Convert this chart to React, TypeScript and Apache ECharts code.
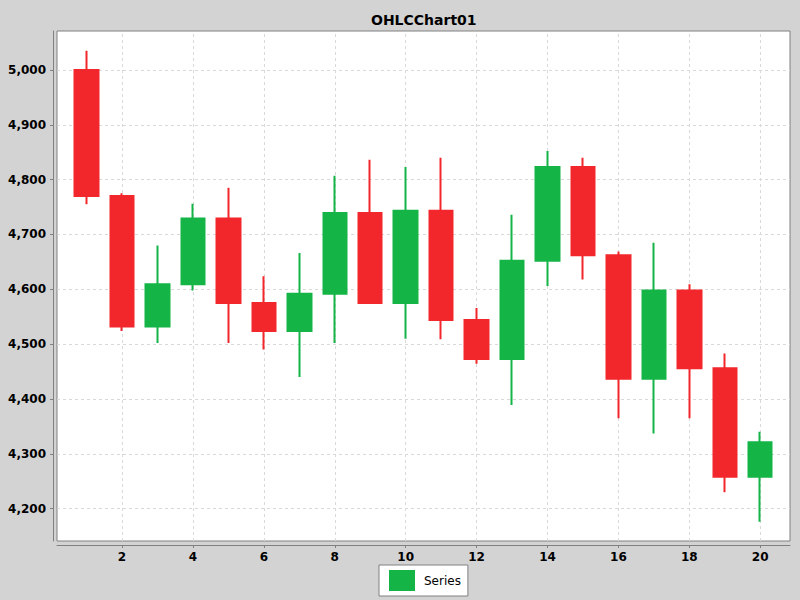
import React, { useEffect, useRef } from 'react';
import * as echarts from 'echarts';

// day index on the x axis
const days = [1, 2, 3, 4, 5, 6, 7, 8, 9, 10, 11, 12, 13, 14, 15, 16, 17, 18, 19, 20];
const openVals = [5000, 4770, 4532, 4609, 4729, 4575, 4524, 4592, 4739, 4575, 4743, 4544, 4473, 4652, 4823, 4662, 4437, 4598, 4456, 4258];
const closeVals = [4770, 4532, 4609, 4729, 4575, 4524, 4592, 4739, 4575, 4743, 4544, 4473, 4652, 4823, 4662, 4437, 4598, 4456, 4258, 4321];
const lowVals = [4755, 4524, 4502, 4598, 4502, 4490, 4440, 4502, 4573, 4510, 4509, 4464, 4389, 4606, 4618, 4365, 4337, 4365, 4230, 4176];
const highVals = [5035, 4775, 4680, 4756, 4785, 4624, 4666, 4807, 4836, 4823, 4840, 4566, 4736, 4852, 4840, 4669, 4685, 4609, 4483, 4340];

const xTicks = [2, 4, 6, 8, 10, 12, 14, 16, 18, 20];
const yTicks = [4200, 4300, 4400, 4500, 4600, 4700, 4800, 4900, 5000];

const UP = '#14b446';
const DOWN = '#f2272c';
const FONT = 'DejaVu Sans';

const App: React.FC = () => {
  const chartRef = useRef<HTMLDivElement>(null);

  useEffect(() => {
    const chart = echarts.init(chartRef.current!, undefined, { renderer: 'svg' });

    const rows = days.map((d, i) => [d, openVals[i], closeVals[i], lowVals[i], highVals[i]]);

    // gridlines at the tick values, drawn as marker lines behind the candles
    const gridLines = [
      ...xTicks.map((v) => ({ xAxis: v })),
      ...yTicks.map((v) => ({ yAxis: v })),
    ];

    chart.setOption({
      animation: false,
      backgroundColor: '#d3d3d3',
      title: {
        text: 'OHLCChart01',
        left: 371,
        top: 13,
        padding: 0,
        textStyle: { fontFamily: FONT, fontSize: 14, fontWeight: 'bold', color: '#000' },
      },
      legend: {
        data: ['Series'],
        left: 379,
        top: 565,
        padding: [5, 7, 5, 10],
        backgroundColor: '#fff',
        borderColor: '#808080',
        borderWidth: 1,
        borderRadius: 0,
        icon: 'rect',
        itemWidth: 24,
        itemHeight: 19,
        itemGap: 10,
        textStyle: { fontFamily: FONT, fontSize: 12, color: '#000', padding: [0, 0, 0, 5] },
      },
      grid: {
        left: 57,
        top: 31,
        width: 733,
        height: 510,
        show: true,
        backgroundColor: '#fff',
        borderColor: '#808080',
        borderWidth: 1,
      },
      xAxis: {
        type: 'value',
        min: 0.166,
        max: 20.84,
        offset: 4,
        axisLine: { show: true, lineStyle: { color: '#808080', width: 1 } },
        axisTick: { show: true, length: 3, customValues: xTicks, lineStyle: { color: '#808080' } },
        axisLabel: {
          customValues: xTicks,
          margin: 6,
          fontFamily: FONT,
          fontSize: 12,
          fontWeight: 'bold',
          color: '#000',
        },
        splitLine: { show: false },
      },
      yAxis: {
        type: 'value',
        min: 4141,
        max: 5071,
        offset: 4,
        axisLine: { show: true, lineStyle: { color: '#808080', width: 1 } },
        axisTick: { show: true, length: 3, customValues: yTicks, lineStyle: { color: '#808080' } },
        axisLabel: {
          customValues: yTicks,
          margin: 7,
          fontFamily: FONT,
          fontSize: 12,
          fontWeight: 'bold',
          color: '#000',
          formatter: (v: number) => v.toLocaleString('en-US'),
        },
        splitLine: { show: false },
      },
      series: [
        {
          name: 'Series',
          type: 'candlestick',
          barWidth: 24,
          encode: { x: 0, y: [1, 2, 3, 4] },
          itemStyle: {
            color: UP,
            color0: DOWN,
            borderColor: UP,
            borderColor0: DOWN,
            borderWidth: 2,
          },
          markLine: {
            silent: true,
            z: 1,
            symbol: ['none', 'none'],
            label: { show: false },
            emphasis: { disabled: true },
            lineStyle: { color: '#d9d9d9', width: 1, type: [3, 3] },
            data: gridLines,
          },
          data: rows,
        },
      ],
    });

    return () => {
      chart.dispose();
    };
  }, []);

  return (
    <div
      ref={chartRef}
      style={{ position: 'fixed', left: 0, top: 0, width: '800px', height: '600px' }}
    />
  );
};

export default App;
